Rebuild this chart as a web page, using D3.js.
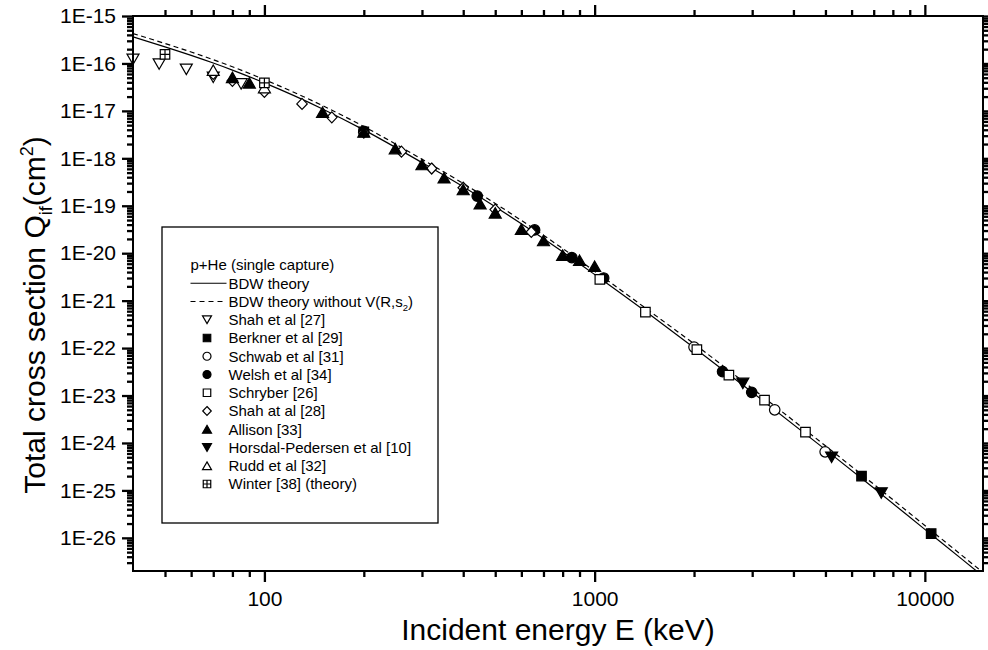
<!DOCTYPE html>
<html><head><meta charset="utf-8">
<script src="https://cdn.jsdelivr.net/npm/d3@7/dist/d3.min.js"></script>
<style>
html,body{margin:0;padding:0;background:#fff;overflow:hidden;}
svg{display:block;}
text{font-family:"Liberation Sans",Arial,Helvetica,sans-serif;fill:#000;}
</style></head><body>
<svg id="chart" width="988" height="650"></svg>
<script>
// ---------------- data ----------------
const xDomain = [40, 15000];
const yDomain = [2e-27, 1e-15];
const xMajorTicks = [100, 1000, 10000];
const xTickLabels = ["100", "1000", "10000"];
const yMajorTicks = [1e-15,1e-16,1e-17,1e-18,1e-19,1e-20,1e-21,1e-22,1e-23,1e-24,1e-25,1e-26];
const yTickLabels = ["1E-15","1E-16","1E-17","1E-18","1E-19","1E-20","1E-21","1E-22","1E-23","1E-24","1E-25","1E-26"];

const theoryE   = [40,50,60,70,80,100,150,200,300,400,500,600,800,1000,1500,2000,3000,5000,7000,10000,13000,15000];
const bdwTheory = [3.63e-16,2.24e-16,1.48e-16,1.02e-16,7.24e-17,3.89e-17,1.10e-17,3.98e-18,8.13e-19,2.51e-19,9.55e-20,4.17e-20,1.07e-20,3.55e-21,4.57e-22,1.02e-22,1.17e-23,7.24e-25,1.12e-25,1.51e-26,3.47e-27,1.55e-27];
const bdwNoV    = [4.27e-16,2.63e-16,1.74e-16,1.20e-16,8.51e-17,4.57e-17,1.29e-17,4.68e-18,9.55e-19,2.95e-19,1.12e-19,4.90e-20,1.26e-20,4.17e-21,5.37e-22,1.23e-22,1.41e-23,8.71e-25,1.35e-25,1.82e-26,4.17e-27,1.86e-27];

const shah27   = [[40,1.22e-16],[48,9.7e-17],[58,7.5e-17],[70,5.1e-17],[85,3.7e-17]];
const berkner  = [[200,3.6e-18],[6430,2.0e-25],[10450,1.23e-26]];
const schwab   = [[2000,1.05e-22],[3510,5.0e-24],[4990,6.5e-25]];
const welsh    = [[200,3.7e-18],[441,1.6e-19],[658,3.1e-20],[853,8.1e-21],[1065,3.0e-21],[2440,3.2e-23],[2990,1.17e-23]];
const schryber = [[1037,2.8e-21],[1425,5.7e-22],[2040,9.3e-23],[2550,2.7e-23],[3270,8.0e-24],[4350,1.7e-24]];
const shah28   = [[70,6.0e-17],[80,4.3e-17],[100,2.5e-17],[130,1.4e-17],[160,7.3e-18],[200,3.5e-18],[260,1.38e-18],[321,6.1e-19],[400,2.4e-19],[500,8.3e-20],[643,2.8e-20]];
const allison  = [[80,5.1e-17],[90,3.9e-17],[150,9.4e-18],[200,3.6e-18],[249,1.6e-18],[300,7.4e-19],[350,3.9e-19],[400,2.2e-19],[450,1.1e-19],[500,7.1e-20],[600,3.2e-20],[700,1.85e-20],[800,9.1e-21],[900,7.1e-21],[1000,5.3e-21]];
const horsdal  = [[2810,1.8e-23],[5220,5.0e-25],[7380,8.8e-26]];
const rudd     = [[70,7.2e-17],[100,3.1e-17]];
const winter   = [[50,1.55e-16],[100,3.9e-17]];

const legendTitle = "p+He (single capture)";
const seriesNames = ["Shah et al [27]","Berkner et al [29]","Schwab et al [31]","Welsh et al [34]","Schryber [26]","Shah at al [28]","Allison [33]","Horsdal-Pedersen et al [10]","Rudd et al [32]","Winter [38] (theory)"];

// ---------------- layout / style ----------------
const svg = d3.select("#chart");
const M = {l:133, r:983, t:16, b:571};
const x = d3.scaleLog().domain(xDomain).range([M.l, M.r]);
const y = d3.scaleLog().domain(yDomain).range([M.b, M.t]);

const series = [
  {data:shah27,   shape:"tdown", filled:false, size:12},
  {data:berkner,  shape:"sq",    filled:true,  size:9.5},
  {data:schwab,   shape:"circ",  filled:false, size:10.5},
  {data:welsh,    shape:"circ",  filled:true,  size:10.5},
  {data:schryber, shape:"sq",    filled:false, size:9.5},
  {data:shah28,   shape:"dia",   filled:false, size:11},
  {data:allison,  shape:"tup",   filled:true,  size:12},
  {data:horsdal,  shape:"tdown", filled:true,  size:12},
  {data:rudd,     shape:"tup",   filled:false, size:12},
  {data:winter,   shape:"sqplus",filled:false, size:9.5}
];

function shapePath(shape, s){
  const h = s*0.87, a = s/2;
  switch(shape){
    case "tup":   return `M0,${-h/2}L${a},${h/2}L${-a},${h/2}Z`;
    case "tdown": return `M0,${h/2}L${a},${-h/2}L${-a},${-h/2}Z`;
    case "sq":    return `M${-a},${-a}H${a}V${a}H${-a}Z`;
    case "sqplus":return `M${-a},${-a}H${a}V${a}H${-a}ZM${-a},0H${a}M0,${-a}V${a}`;
    case "dia":   return `M0,${-a}L${a*0.95},0L0,${a}L${-a*0.95},0Z`;
    case "circ":  return `M${a},0A${a},${a} 0 1,1 ${-a},0A${a},${a} 0 1,1 ${a},0Z`;
  }
}
function drawMarker(g, shape, filled, s, cx, cy){
  g.append("path").attr("d", shapePath(shape, s))
    .attr("transform", `translate(${cx},${cy})`)
    .attr("fill", filled ? "#000" : "#fff")
    .attr("stroke", "#000").attr("stroke-width", 1.2)
    .attr("stroke-linejoin","miter");
}

svg.append("defs").append("clipPath").attr("id","plotclip")
  .append("rect").attr("x",M.l).attr("y",M.t).attr("width",M.r-M.l).attr("height",M.b-M.t);

// curves
const line = d3.line().x(d=>x(d[0])).y(d=>y(d[1])).curve(d3.curveMonotoneX);
const curvesG = svg.append("g").attr("clip-path","url(#plotclip)");
curvesG.append("path").datum(theoryE.map((e,i)=>[e,bdwTheory[i]]))
  .attr("d",line).attr("fill","none").attr("stroke","#000").attr("stroke-width",1.2);
curvesG.append("path").datum(theoryE.map((e,i)=>[e,bdwNoV[i]]))
  .attr("d",line).attr("fill","none").attr("stroke","#000").attr("stroke-width",1.2)
  .attr("stroke-dasharray","5,3.5");

// legend
const L = {x:162, y:227, w:276, h:296, textX:228.5, symX:207, lineX0:190.5, lineX1:226.5, row0:265, step:18.25, fs:15};
const lg = svg.append("g");
lg.append("rect").attr("x",L.x).attr("y",L.y).attr("width",L.w).attr("height",L.h)
  .attr("fill","#fff").attr("stroke","#000").attr("stroke-width",1.3);
lg.append("text").attr("x",L.lineX0).attr("y",L.row0).attr("dy","0.35em").attr("font-size",L.fs).text(legendTitle);
const r1 = L.row0+L.step, r2 = L.row0+2*L.step;
lg.append("line").attr("x1",L.lineX0).attr("x2",L.lineX1).attr("y1",r1).attr("y2",r1).attr("stroke","#000").attr("stroke-width",1.2);
lg.append("text").attr("x",L.textX).attr("y",r1).attr("dy","0.35em").attr("font-size",L.fs).text("BDW theory");
lg.append("line").attr("x1",L.lineX0).attr("x2",L.lineX1).attr("y1",r2).attr("y2",r2).attr("stroke","#000").attr("stroke-width",1.2).attr("stroke-dasharray","5,4");
const t2 = lg.append("text").attr("x",L.textX).attr("y",r2).attr("dy","0.35em").attr("font-size",L.fs);
t2.append("tspan").text("BDW theory without V(R,s");
t2.append("tspan").attr("font-size",9.5).attr("dy",4).text("2");
t2.append("tspan").attr("dy",-4).text(")");
const legSize = {tup:9, tdown:9, sq:7.5, sqplus:7.5, dia:9, circ:8};
series.forEach((s,i)=>{
  const ry = L.row0 + (3+i)*L.step;
  drawMarker(lg, s.shape, s.filled, legSize[s.shape], L.symX, ry);
  lg.append("text").attr("x",L.textX).attr("y",ry).attr("dy","0.35em").attr("font-size",L.fs).text(seriesNames[i]);
});

// markers
const mG = svg.append("g");
series.forEach(s=>{
  s.data.forEach(d=> drawMarker(mG, s.shape, s.filled, s.size, x(d[0]), y(d[1])));
});

// axis titles
svg.append("text").attr("x",(M.l+M.r)/2).attr("y",640).attr("text-anchor","middle")
  .attr("font-size",30).text("Incident energy E (keV)");
const yt = svg.append("text").attr("transform","translate(45,315) rotate(-90)")
  .attr("text-anchor","middle").attr("font-size",30);
yt.append("tspan").text("Total cross section Q");
yt.append("tspan").attr("font-size",18).attr("dy",7).text("if");
yt.append("tspan").attr("dy",-7).text("(cm");
yt.append("tspan").attr("font-size",18).attr("dy",-12).text("2");
yt.append("tspan").attr("dy",12).text(")");

// ---------------- axes (drawn last) ----------------
function minorTicks(lo, hi){
  const out=[];
  const d0=Math.floor(Math.log10(lo)), d1=Math.ceil(Math.log10(hi));
  for(let d=d0; d<=d1; d++) for(let k=2;k<=9;k++){ const v=k*Math.pow(10,d); if(v>lo*1.0001 && v<hi*0.9999) out.push(v); }
  return out;
}
const xMinor = minorTicks(xDomain[0], xDomain[1]);
const yMinor = minorTicks(yDomain[0], yDomain[1]);

const axG = svg.append("g").attr("class","axes");
function styleAxis(g){
  g.select(".domain").remove();
  g.selectAll(".tick line").attr("stroke","#000").attr("stroke-width",2.3);
}
function addAxis(axisGen, tx, ty){
  return axG.append("g").attr("transform",`translate(${tx},${ty})`).call(axisGen).call(styleAxis);
}
addAxis(d3.axisBottom(x).tickValues(xMinor).tickSize(6).tickFormat(()=>""), 0, M.b);
addAxis(d3.axisBottom(x).tickValues(xMajorTicks).tickSize(11).tickPadding(9).tickFormat((d,i)=>xTickLabels[i]), 0, M.b)
  .call(g=>g.selectAll("text").attr("font-size",21).attr("font-family",null));
addAxis(d3.axisTop(x).tickValues(xMinor).tickSize(6).tickFormat(()=>""), 0, M.t);
addAxis(d3.axisTop(x).tickValues(xMajorTicks).tickSize(11).tickFormat(()=>""), 0, M.t);
addAxis(d3.axisLeft(y).tickValues(yMinor).tickSize(6).tickFormat(()=>""), M.l, 0);
addAxis(d3.axisLeft(y).tickValues(yMajorTicks).tickSize(11).tickPadding(6).tickFormat((d,i)=>yTickLabels[i]), M.l, 0)
  .call(g=>g.selectAll("text").attr("font-size",21).attr("font-family",null));
addAxis(d3.axisRight(y).tickValues(yMinor).tickSize(6).tickFormat(()=>""), M.r, 0);
addAxis(d3.axisRight(y).tickValues(yMajorTicks).tickSize(11).tickFormat(()=>""), M.r, 0);

svg.append("rect").attr("x",M.l).attr("y",M.t).attr("width",M.r-M.l).attr("height",M.b-M.t)
  .attr("fill","none").attr("stroke","#000").attr("stroke-width",2);
</script>
</body></html>
